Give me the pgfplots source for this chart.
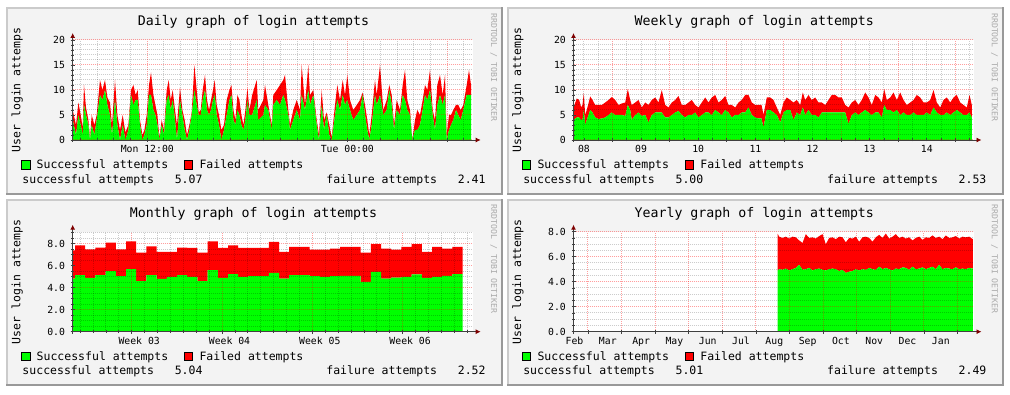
\documentclass[border=0pt]{standalone}
\usepackage{pgfplots}
\pgfplotsset{compat=1.18}
\usepackage{pgfplotstable}
\usetikzlibrary{arrows.meta}
\usepackage{fontspec}
\setmainfont{DejaVu Sans Mono}

\definecolor{panelbg}{HTML}{F3F3F3}
\definecolor{shadeA}{HTML}{CBCBCB}
\definecolor{shadeB}{HTML}{999999}
\definecolor{rrdgreen}{HTML}{00FF00}
\definecolor{rrdred}{HTML}{FF0000}
\definecolor{axisc}{HTML}{404040}
\definecolor{arrowred}{HTML}{7F0000}
\definecolor{wmgray}{HTML}{AAAAAA}

\newcommand\titlefont{\fontsize{13.25pt}{15pt}\selectfont}
\newcommand\legfont{\fontsize{11.5pt}{13pt}\selectfont}
\newcommand\tickfont{\fontsize{9.8pt}{11pt}\selectfont}
\newcommand\wmfont{\fontsize{8.2pt}{9pt}\selectfont}

% x = pixel offset inside the 400 px wide plot area (time axis)
\pgfplotstableread{
x s f
0 4 2
3.3 1 2
5.7 5 2.5
8 3 2
10 1 1.5
11.3 7 4
13.3 5 1.5
15.7 3 1
17.3 0 0.3
19 3 2
21.7 1 2
24 4 1
27.3 9 3
29.7 8 2
32.3 10 2
34.7 7 1.5
37.3 5 2.5
39.3 1 2
42.3 8 4
44.7 3 2
47.3 0 2
50 3 2
52.7 0 1.5
55.7 2 1
58.3 9 1
60.7 7 4
63 8 1
65 8 2
67.3 3 1
69.7 0 1
71.7 1 1
74 3 2
76.3 9 2
78.3 9 4.5
80.7 6 3
82.7 5 2
84.7 3 2
86.7 0 0.5
89 3 1
91.3 1 1
94 8 2
96 9 3
98 6 2
100 8 2
102.3 4 2
104.3 0 3
107.3 8 2.5
109.7 5 1
112 2 2
114.3 0 1
116.7 2 1
119 5 0.5
121.7 10 5
124 7 3
126 5 0.5
128 5 1
130 8 2
132.3 10 3
134.3 6 2
136.3 5 1
138.3 6 2
140.3 8 2
142 9 3
144 5 2
146.3 3 2
148.7 0 2
151.3 2 1
154 5 3
156.7 8 2
158.7 9 2
160.7 4 2
162.7 3 1
164.7 6 3
166.7 5 3
168.7 3 2
170.7 2 1
172.7 4 2
174.7 8 2.5
176.7 5 1
179.5 5 4
184 8 4
185.6 4 2
190.6 5 3
192.3 7 4
195.6 6 1
199 2 1
200.6 7 2
204 8 2
207.3 7 4
210.6 9 3
212.3 8 5
215.6 5 1
217.3 2 1
220.6 4 2
224 6 2
227.3 4 2
229 9 6
232.3 6 1
235.6 10 5
237.3 7 2
240.6 9 1
244 3 1
246.3 0 1
249 7 3
251.3 2 2
254 5 0.5
256.6 1 2
259 0 0.5
262.3 5 2
264.6 8 3
267.3 6 2
270 9 3
272.3 7 2
274.6 8 5
277.3 6 2
280.6 4 2
284 5 2
287.3 6 2
290 9 0.5
292.3 5 2
294.6 2 2
296.6 0 1
299 3 2
302.3 9 3
304 7 2
307.3 9 6
310.6 5 1
314 6 2
316.6 10 1
319 7 2
321.3 2 1
324 6 2
327.3 5 1
330 9 2
332.3 8 6
334.6 6 2
337.3 5 1
339.6 0 0
342.3 2 2
344.6 2 4
347.3 3 2
350 6 2
352.3 9 2
354.6 8 2
357.3 10 4
360 5 1
362.3 2 2
364.6 7 4
367.3 9 4
370 7 2
372.3 9 4
374 0 1
376.3 2 3
378.3 3 2
380.6 4 2
383.3 6 1
385.6 5 2
388 4 2
390.6 6 1
394 9 2
396.3 9 5
398.3 9 2
}\dailytab

\pgfplotstableread{
x s f
0 4 2.5
3.3 4.5 3.8
5.7 4.5 3.5
7.7 4 2.5
9 4 3
10.3 6 3.4
11.7 3 2
13.3 4 2
16.7 6 2.7
19 5.5 2.5
21.7 4.5 2.5
25 4.2 2.8
28.3 4.3 2.7
31.7 4.5 3
35 5 3
38.3 5.5 3.1
41.7 5 3
45 5 2
48.3 5 2.3
51.7 4.8 2.7
54.3 7 3.2
56.7 6 2
58.3 4 3
61.7 5 2.5
65 5.5 2.5
68.3 4.8 1.7
71.7 5 2.5
75 3.5 3.5
78.3 5 3
81.7 5.5 3
85 5.5 2
88.3 5.5 4.5
91.7 4.5 2.5
95 4.5 2
98.3 5 2.5
101.7 5.5 2.5
105 5.8 3
108.3 5 2
111.7 4.5 2.5
115 5 2.5
118.3 5 3
121.7 5.5 1.5
125 4.5 2
128.3 5 2.5
131.7 5.5 3
135 5.5 2
138.3 5 3.5
141.7 6 3
145 5.5 2
148.3 5 3
151.7 6 2.8
155 5.5 1.5
158.3 4.5 2.5
161.7 5 1.5
165 5 2.5
168.3 5.5 2.5
171.7 5.5 3.5
175 6.5 2.5
178.3 5 2.5
181.7 4.5 2.5
185 4.3 2.7
188 4.3 2.7
190 2.5 2.5
193.3 6 2.5
196.7 6 2.5
200 5.5 2.5
203.3 5 1.5
206.7 3.5 1.5
210 5.5 2
213.3 6 2.5
216.7 6 2
220 4 3.5
223.3 5.5 2.5
226.7 5 2
229.3 6.5 3
231.7 5 3
235 6 3
238.3 5 3
241.7 5 3.5
245 4.5 3
248.3 5.5 2
251.7 5.5 1.5
255 5.5 2.5
258.3 5.5 3.5
261.7 5.5 3.5
265 5.5 3
268.3 5.5 3
271.7 5.5 1.5
275 3.2 3.3
278.3 5 2.5
281.7 5.5 2.5
285 5 2
288.3 5.5 2.5
291.7 6 3.5
295 5.5 3
298.3 5 2
301.7 5.5 3.5
305 5.5 3
308.3 4.5 3
310.7 7 3.2
313.3 6 2
316.7 6 2.5
320 5.5 4
323.3 6 2
326.7 5 4.5
330 5.5 2.5
333.3 5 2
336.7 5 2.5
340 5.5 2.5
343.3 5 4
346.7 5 3.5
350 5 2.5
353.3 5.5 2
356.7 5 3
360 6.5 3.5
363.3 5.5 2
366.7 5 1.5
370 5 3
373.3 5.5 3
376.7 5 2.5
380 5.5 3
383.3 6 3
386.7 5.5 2
390 5 2
393.3 5 1.5
396 5.5 3.5
398.3 4.5 2.5
}\weeklytab

\pgfplotstableread{
x s f
0 4.83 2.57
2.3 5.14 2.71
12.5 4.89 2.60
22.7 5.14 2.50
32.9 5.50 2.60
43.1 5.05 2.44
53.3 5.68 2.54
63.5 4.59 2.60
73.7 5.14 2.62
83.9 4.80 2.45
94.1 4.98 2.27
104.3 5.14 2.50
114.5 4.98 2.63
124.7 4.59 2.60
134.9 5.59 2.63
145.1 4.89 2.72
155.3 5.23 2.62
165.5 4.98 2.63
175.7 5.05 2.56
185.9 5.05 2.56
196.1 5.35 2.81
206.3 4.83 2.42
216.5 5.14 2.56
226.7 5.14 2.56
236.9 5.05 2.41
247.1 4.98 2.48
257.3 5.05 2.50
267.5 5.08 2.62
277.7 5.08 2.62
287.9 4.53 2.66
298.1 5.44 2.51
308.3 4.83 2.72
318.5 4.92 2.54
328.7 4.98 2.72
338.9 5.20 2.75
349.1 4.89 2.36
359.3 4.98 2.72
369.5 5.08 2.47
379.7 5.23 2.47
389.9 5.23 2.47
}\monthlytab

\pgfplotstableread{
x s f
204 4.90 2.95
205.7 5.00 2.60
209 4.95 2.55
212.3 5.05 2.55
215.7 4.90 2.55
219 5.00 2.60
222.3 5.10 2.45
225.7 5.35 1.95
229 4.95 2.15
232.3 5.00 2.80
235.7 5.10 2.40
239 4.90 2.65
242.3 5.00 2.45
245.7 5.05 2.60
249 4.95 2.85
252.3 4.90 2.10
255.7 5.00 2.50
259 5.05 2.50
262.3 5.00 2.40
265.7 4.85 2.75
269 4.95 2.60
272.3 4.70 2.45
275.7 4.80 2.70
279 4.85 2.60
282.3 5.00 2.60
285.7 4.90 2.30
289 5.00 2.55
292.3 4.95 2.65
295.7 5.10 2.40
299 5.00 2.20
302.3 4.95 2.60
305.7 5.20 2.55
309 5.00 2.50
312.3 5.10 2.75
315.7 5.00 2.45
319 4.90 2.70
322.3 5.05 2.75
325.7 5.00 2.50
329 5.15 2.45
332.3 5.10 2.35
335.7 4.95 2.60
339 5.20 2.10
342.3 5.00 2.50
345.7 5.05 2.55
349 5.15 2.20
352.3 5.00 2.55
355.7 5.10 2.40
359 5.20 2.50
362.3 5.00 2.50
365.7 5.35 2.25
369 5.00 2.40
372.3 5.10 2.60
375.7 5.05 2.45
379 5.00 2.55
382.3 5.15 2.50
385.7 5.00 2.45
389 5.05 2.55
392.3 5.00 2.55
395.7 5.10 2.50
399.3 5.05 2.35
}\yearlytab

\pgfplotsset{
  legend image code/.code={\path (-15.9pt,0pt) (15.4pt,0pt);
    \draw[#1,draw=black,line width=0.8pt] (0.4pt,-4.1pt) rectangle (8.6pt,4.1pt);},
  rrd/.style={
    scale only axis, width=400pt, height=100pt,
    anchor=south west,
    xmin=0, xmax=400, ymin=0,
    axis background/.style={fill=white},
    axis x line*=bottom, axis y line*=left,
    axis on top,
    axis line style={draw=axisc, line width=0.9pt},
    x axis line style={-{Latex[length=5pt,width=5pt,color=arrowred]}, shorten >=-8pt, shorten <=-2pt},
    y axis line style={-{Latex[length=5pt,width=5pt,color=arrowred]}, shorten >=-7pt, shorten <=-2pt},
    tick style={draw=axisc, line width=0.8pt},
    tick align=center, major tick length=4pt, minor tick length=3pt,
    grid=both,
    major grid style={draw=red, opacity=0.38, line width=1pt, dash pattern=on 1pt off 1pt},
    minor grid style={draw=black, opacity=0.2, line width=1pt, dash pattern=on 1pt off 1pt},
    xticklabels={},
    extra x tick style={grid=none, major tick length=0pt},
    tick label style={font=\tickfont},
    xticklabel style={anchor=base, inner sep=0pt, yshift=-12.9pt},
    yticklabel style={anchor=east, inner sep=0pt, xshift=-5.5pt},
    stack plots=y,
    legend columns=2,
    legend cell align=left,
    legend style={at={(axis description cs:-0.16825,-0.2485)}, anchor=west,
      draw=none, fill=none, inner sep=0pt, outer sep=0pt, font=\legfont,
      nodes={inner sep=0pt, text height=8.3pt, text depth=0pt},
      /tikz/column sep=0pt},
  }
}

\newcommand\panel[5]{%
  \begin{scope}[shift={(#1pt,-#2pt)}, x=1pt, y=-1pt]
    \fill[panelbg] (6,7.3) rectangle (502.7,194.7);
    \fill[shadeA] (6,7.3) rectangle (502.7,9.3);
    \fill[shadeA] (6,7.3) rectangle (8,194.7);
    \fill[shadeB] (6,192.7) rectangle (502.7,194.7);
    \fill[shadeB] (500.7,7.3) rectangle (502.7,194.7);
    \node[anchor=base, inner sep=0pt, font=\titlefont] at (253.5,25.7) {#3 graph of login attempts};
    \node[anchor=base, rotate=90, inner sep=0pt, font=\legfont] at (20.4,90) {User login attemps};
    \node[anchor=base, rotate=-90, inner sep=0pt, font=\wmfont, text=wmgray] at (491,67.5) {RRDTOOL / TOBI OETIKER};
    \node[anchor=base west, inner sep=0pt, font=\legfont] at (22.3,183.3) {successful attempts\hphantom{000}#4};
    \node[anchor=base east, inner sep=0pt, font=\legfont] at (485.8,183.3) {failure attempts\hphantom{000}#5};
  \end{scope}}

\begin{document}
\begin{tikzpicture}
\useasboundingbox (0,0) rectangle (1010pt,-395pt);
\fill[white] (0,0) rectangle (1010pt,-395pt);
\panel{0}{0}{Daily}{5.07}{2.41}
\panel{500.8}{0}{Weekly}{5.00}{2.53}
\panel{0}{191.7}{Monthly}{5.04}{2.52}
\panel{500.8}{191.7}{Yearly}{5.01}{2.49}

% Daily
\begin{axis}[rrd, at={(72.7pt,-140pt)}, ymax=20,
  ytick={0,5,10,15,20}, yticklabels={0,5,10,15,20},
  minor ytick={1,2,3,4,6,7,8,9,11,12,13,14,16,17,18,19},
  xtick={74.3,174.3,274.3,374.3},
  minor xtick={7.6,24.3,41,57.6,91,107.6,124.3,141,157.6,191,207.6,224.3,241,257.6,291,307.6,324.3,341,357.6,391},
  extra x ticks={74.6,274.6}, extra x tick labels={Mon 12:00,Tue 00:00}]
\addplot[fill=rrdgreen, draw=none] table[x=x,y=s]{\dailytab} \closedcycle;
\addlegendentry{Successful attempts}
\addplot[fill=rrdred, draw=none] table[x=x,y=f]{\dailytab} \closedcycle;
\addlegendentry{Failed attempts}
\end{axis}

% Weekly
\begin{axis}[rrd, at={(573.5pt,-140pt)}, ymax=20,
  ytick={0,5,10,15,20}, yticklabels={0,5,10,15,20},
  minor ytick={1,2,3,4,6,7,8,9,11,12,13,14,16,17,18,19},
  xtick={39,96.1,153.3,210.4,267.6,324.7,381.9},
  minor xtick={10.4,24.7,53.3,67.6,81.9,110.4,124.7,139,167.6,181.9,196.1,224.7,239,253.3,281.9,296.1,310.4,339,353.3,367.6,396.1},
  extra x ticks={10.4,67.6,124.7,181.9,239,296.1,353.3}, extra x tick labels={08,09,10,11,12,13,14}]
\addplot[fill=rrdgreen, draw=none] table[x=x,y=s]{\weeklytab} \closedcycle;
\addlegendentry{Successful attempts}
\addplot[fill=rrdred, draw=none] table[x=x,y=f]{\weeklytab} \closedcycle;
\addlegendentry{Failed attempts}
\end{axis}

% Monthly
\begin{axis}[rrd, at={(72.7pt,-331.7pt)}, ymax=9.09, const plot,
  ytick={0,2,4,6,8}, yticklabels={0.0,2.0,4.0,6.0,8.0},
  minor ytick={0.5,1,1.5,2.5,3,3.5,4.5,5,5.5,6.5,7,7.5,8.5,9},
  xtick={59,149.3,239.6,329.9},
  minor xtick={7.4,20.3,33.2,46.1,71.9,84.8,97.7,110.6,123.5,136.4,162.2,175.1,188,200.9,213.8,226.7,252.5,265.4,278.3,291.2,304.1,317,342.8,355.7,368.6,381.5,394.4},
  extra x ticks={66.5,156.8,247.1,337.4}, extra x tick labels={Week 03,Week 04,Week 05,Week 06}]
\addplot[fill=rrdgreen, draw=none] table[x=x,y=s]{\monthlytab} \closedcycle;
\addlegendentry{Successful attempts}
\addplot[fill=rrdred, draw=none] table[x=x,y=f]{\monthlytab} \closedcycle;
\addlegendentry{Failed attempts}
\end{axis}

% Yearly
\begin{axis}[rrd, at={(573.5pt,-331.7pt)}, ymax=8,
  ytick={0,2,4,6,8}, yticklabels={0.0,2.0,4.0,6.0,8.0},
  minor ytick={0.5,1,1.5,2.5,3,3.5,4.5,5,5.5,6.5,7,7.5},
  xtick={14.4,48,81.6,115.2,148.8,182.4,216,249.6,283.2,316.8,350.4,384},
  extra x ticks={1,34.3,67.6,100.9,134.2,167.5,200.8,234.1,267.4,300.7,334,367.3},
  extra x tick labels={Feb,Mar,Apr,May,Jun,Jul,Aug,Sep,Oct,Nov,Dec,Jan}]
\addplot[fill=rrdgreen, draw=none] table[x=x,y=s]{\yearlytab} \closedcycle;
\addlegendentry{Successful attempts}
\addplot[fill=rrdred, draw=none] table[x=x,y=f]{\yearlytab} \closedcycle;
\addlegendentry{Failed attempts}
\end{axis}
\end{tikzpicture}
\end{document}
